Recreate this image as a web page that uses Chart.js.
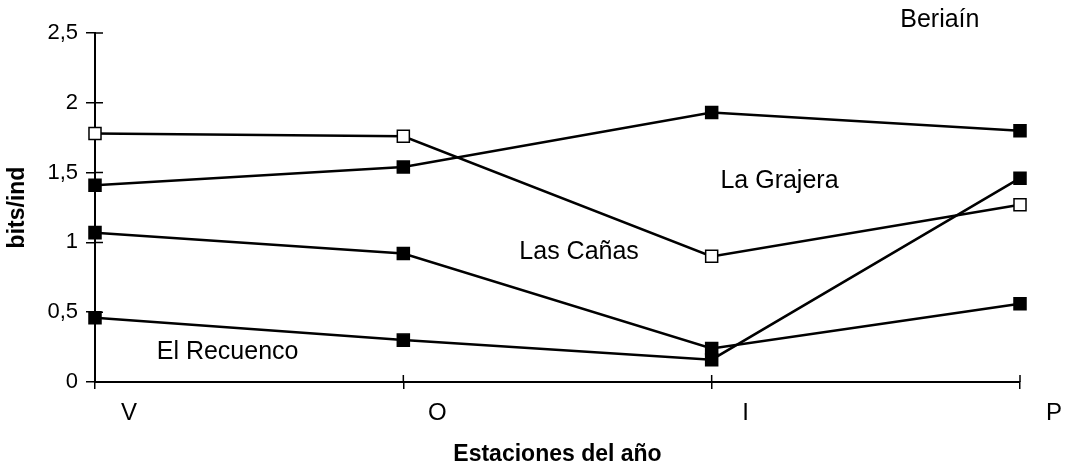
<!DOCTYPE html>
<html>
<head>
<meta charset="utf-8">
<script src="https://cdn.jsdelivr.net/npm/chart.js@4.4.1/dist/chart.umd.min.js"></script>
<style>
  html, body { margin: 0; padding: 0; background: #fff; }
  #wrap { width: 1069px; height: 471px; position: relative; }
</style>
</head>
<body>
<div id="wrap"><canvas id="chart"></canvas></div>
<script>
const seasons = ['V', 'O', 'I', 'P'];
const yTickLabels = ['0', '0,5', '1', '1,5', '2', '2,5'];

const beriain = [1.41, 1.54, 1.93, 1.80];
const laGrajera = [1.78, 1.76, 0.90, 1.27];
const lasCanas = [1.07, 0.92, 0.24, 0.56];
const elRecuenco = [0.46, 0.30, 0.16, 1.46];

// site names written inside the plot, placed in data units (category index, value)
const siteNames = ['Beriaín', 'La Grajera', 'Las Cañas', 'El Recuenco'];
const nameX = [2.74, 2.22, 1.57, 0.43];
const nameY = [2.59, 1.44, 0.93, 0.215];

const font = '"Liberation Sans", Arial, sans-serif';

function series(data, fill) {
  return {
    data: data,
    borderColor: '#000',
    borderWidth: 2.5,
    tension: 0,
    pointStyle: 'rect',
    pointRadius: 8.5,
    pointBorderWidth: 1.5,
    pointBorderColor: '#000',
    pointBackgroundColor: fill,
  };
}

// ticks that cross the axis line: the inner half is drawn here
const crossTicks = {
  id: 'crossTicks',
  afterDraw(chart) {
    const ctx = chart.ctx;
    const x = chart.scales.x;
    const y = chart.scales.y;
    ctx.save();
    ctx.strokeStyle = '#000';
    ctx.lineWidth = 1.5;
    ctx.beginPath();
    y.ticks.forEach((t, i) => {
      const py = y.getPixelForTick(i);
      ctx.moveTo(x.left, py);
      ctx.lineTo(x.left + 8, py);
    });
    x.ticks.forEach((t, i) => {
      const px = x.getPixelForTick(i);
      ctx.moveTo(px, y.bottom);
      ctx.lineTo(px, y.bottom - 7);
    });
    ctx.stroke();

    ctx.fillStyle = '#000';
    ctx.font = '25px ' + font;
    ctx.textAlign = 'center';
    ctx.textBaseline = 'middle';
    siteNames.forEach((name, i) => {
      ctx.fillText(name, x.getPixelForValue(nameX[i]), y.getPixelForValue(nameY[i]));
    });
    ctx.restore();
  }
};

new Chart(document.getElementById('chart'), {
  type: 'line',
  data: {
    labels: seasons,
    datasets: [
      series(beriain, '#000'),
      series(laGrajera, '#fff'),
      series(lasCanas, '#000'),
      series(elRecuenco, '#000'),
    ],
  },
  options: {
    responsive: true,
    maintainAspectRatio: false,
    animation: false,
    layout: { padding: { top: 33, right: 49, left: 0, bottom: 0 } },
    plugins: {
      legend: { display: false },
      tooltip: { enabled: false },
    },
    scales: {
      x: {
        offset: false,
        afterFit(scale) { scale.height = 89; },
        grid: { drawOnChartArea: false, color: '#000', lineWidth: 1.5, tickLength: 7 },
        border: { color: '#000', width: 2 },
        ticks: {
          color: '#000',
          font: { family: font, size: 24 },
          padding: 10,
          labelOffset: 34,
          maxRotation: 0,
        },
        title: {
          display: true,
          text: 'Estaciones del año',
          color: '#000',
          font: { family: font, size: 23, weight: 'bold' },
          padding: { top: 4, bottom: 3 },
        },
      },
      y: {
        min: 0,
        max: 2.5,
        afterFit(scale) { scale.width = 95; },
        grid: { drawOnChartArea: false, color: '#000', lineWidth: 1.5, tickLength: 9 },
        border: { color: '#000', width: 2 },
        ticks: {
          stepSize: 0.5,
          color: '#000',
          font: { family: font, size: 22 },
          padding: 8,
          callback: (v, i) => yTickLabels[i],
        },
        title: {
          display: true,
          text: 'bits/ind',
          color: '#000',
          font: { family: font, size: 23, weight: 'bold' },
          padding: { top: 4, bottom: 4 },
        },
      },
    },
  },
  plugins: [crossTicks],
});
</script>
</body>
</html>
